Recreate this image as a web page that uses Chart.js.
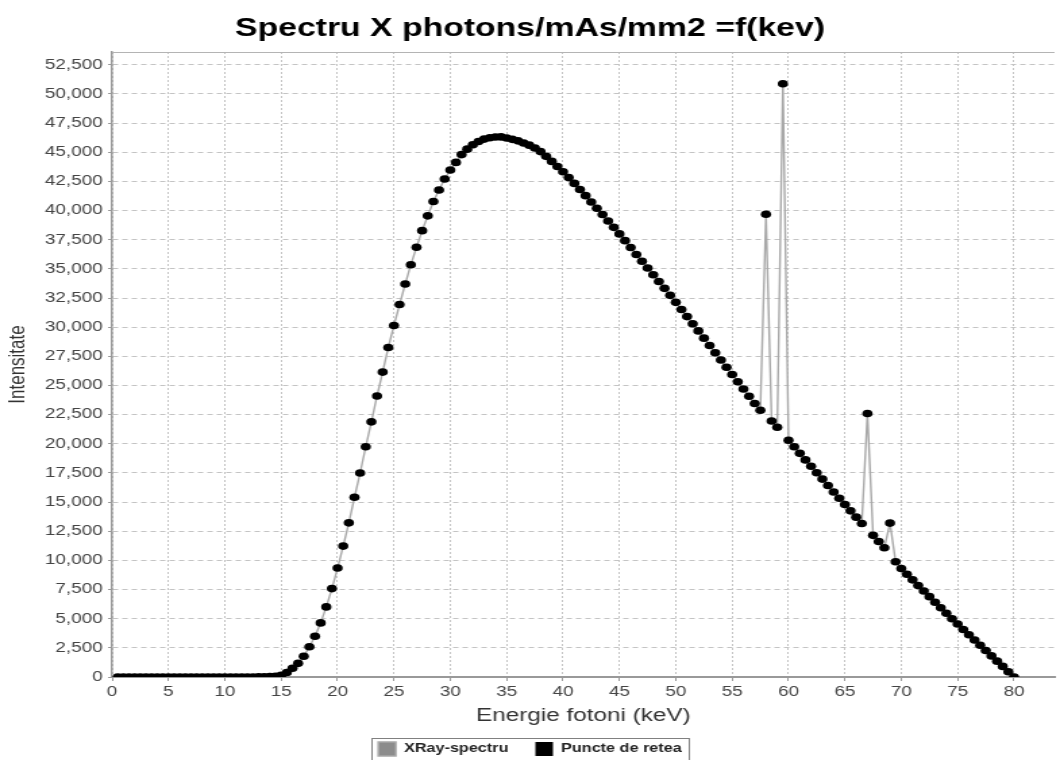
<!DOCTYPE html>
<html>
<head>
<meta charset="utf-8">
<script src="https://cdn.jsdelivr.net/npm/chart.js@4.4.1/dist/chart.umd.min.js"></script>
<style>
html, body { margin: 0; padding: 0; background: #fff; overflow: hidden; }
#wrap { width: 1060px; height: 760px; overflow: hidden; position: relative; background: #fff; }
/* the reference picture is stretched sideways, so the canvas is too */
#plot { position: absolute; left: 0; top: 0; transform-origin: 0 0; transform: scaleX(1.3503); }
</style>
</head>
<body>
<div id="wrap"><canvas id="plot" width="785" height="766"></canvas></div>
<script>
// photon energy (keV), one point every 0.5 keV
const energy = [
  0.5, 1, 1.5, 2, 2.5, 3, 3.5, 4, 4.5, 5,
  5.5, 6, 6.5, 7, 7.5, 8, 8.5, 9, 9.5, 10,
  10.5, 11, 11.5, 12, 12.5, 13, 13.5, 14, 14.5, 15,
  15.5, 16, 16.5, 17, 17.5, 18, 18.5, 19, 19.5, 20,
  20.5, 21, 21.5, 22, 22.5, 23, 23.5, 24, 24.5, 25,
  25.5, 26, 26.5, 27, 27.5, 28, 28.5, 29, 29.5, 30,
  30.5, 31, 31.5, 32, 32.5, 33, 33.5, 34, 34.5, 35,
  35.5, 36, 36.5, 37, 37.5, 38, 38.5, 39, 39.5, 40,
  40.5, 41, 41.5, 42, 42.5, 43, 43.5, 44, 44.5, 45,
  45.5, 46, 46.5, 47, 47.5, 48, 48.5, 49, 49.5, 50,
  50.5, 51, 51.5, 52, 52.5, 53, 53.5, 54, 54.5, 55,
  55.5, 56, 56.5, 57, 57.5, 58, 58.5, 59, 59.5, 60,
  60.5, 61, 61.5, 62, 62.5, 63, 63.5, 64, 64.5, 65,
  65.5, 66, 66.5, 67, 67.5, 68, 68.5, 69, 69.5, 70,
  70.5, 71, 71.5, 72, 72.5, 73, 73.5, 74, 74.5, 75,
  75.5, 76, 76.5, 77, 77.5, 78, 78.5, 79, 79.5, 80
];

// photons/mAs/mm2
const intensity = [
  0, 0, 0, 0, 0, 0, 0, 0, 0, 0,
  0, 0, 0, 0, 0, 0, 0, 0, 0, 0,
  0, 0, 0, 0, 5, 10, 20, 35, 70, 150,
  380, 750, 1170, 1780, 2590, 3500, 4640, 6010, 7580, 9345,
  11225, 13220, 15410, 17495, 19745, 21880, 24100, 26150, 28260, 30145,
  31940, 33700, 35360, 36850, 38280, 39550, 40780, 41770, 42710, 43480,
  44130, 44800, 45270, 45650, 45930, 46130, 46250, 46310, 46320, 46230,
  46110, 45980, 45800, 45610, 45370, 45060, 44650, 44220, 43780, 43330,
  42840, 42330, 41810, 41280, 40740, 40200, 39660, 39110, 38560, 38000,
  37420, 36830, 36240, 35660, 35080, 34500, 33920, 33330, 32730, 32130,
  31520, 30910, 30300, 29680, 29060, 28430, 27800, 27180, 26560, 25940,
  25320, 24700, 24080, 23460, 22880, 39680, 21960, 21420, 50880, 20300,
  19740, 19180, 18620, 18070, 17520, 16970, 16420, 15870, 15330, 14790,
  14250, 13710, 13170, 22600, 12150, 11620, 11080, 13200, 9880, 9300,
  8810, 8330, 7850, 7370, 6890, 6410, 5940, 5470, 5000, 4540,
  4080, 3620, 3170, 2720, 2270, 1810, 1360, 910, 450, 0
];

// y tick values shown on the axis
const yTicks = [
  0, 2500, 5000, 7500, 10000, 12500, 15000, 17500, 20000, 22500, 25000,
  27500, 30000, 32500, 35000, 37500, 40000, 42500, 45000, 47500, 50000, 52500
];

const seriesNames = ['XRay-spectru', 'Puncte de retea'];

const points = energy.map((e, i) => ({ x: e, y: intensity[i] }));

const FONT = "'Liberation Sans', Arial, sans-serif";

// frame round the legend and a thin top edge on the plot
const frames = {
  id: 'frames',
  afterDraw(chart) {
    const ctx = chart.ctx;
    const a = chart.chartArea;
    ctx.save();
    ctx.strokeStyle = '#b4b4b4';
    ctx.lineWidth = 1;
    ctx.beginPath();
    ctx.moveTo(a.left, a.top + 0.5);
    ctx.lineTo(a.right, a.top + 0.5);
    ctx.stroke();

    const boxes = chart.legend.legendHitBoxes || [];
    if (boxes.length) {
      let l = Infinity, r = -Infinity, t = Infinity, b = -Infinity;
      boxes.forEach(h => {
        l = Math.min(l, h.left); r = Math.max(r, h.left + h.width);
        t = Math.min(t, h.top); b = Math.max(b, h.top + h.height);
      });
      ctx.strokeStyle = '#808080';
      ctx.strokeRect(Math.round(l - 5) + 0.5, Math.round(t - 4) + 0.5,
                     Math.round(r - l + 10), Math.round(b - t + 8));
    }
    ctx.restore();
  }
};

const ctx = document.getElementById('plot').getContext('2d');

const spectrumChart = new Chart(ctx, {
  type: 'scatter',
  data: {
    datasets: [
      {
        label: seriesNames[0],
        type: 'line',
        data: points,
        showLine: true,
        borderColor: '#a8a8a8',
        backgroundColor: '#8c8c8c',
        borderWidth: 1.4,
        pointRadius: 0,
        tension: 0,
        order: 2
      },
      {
        label: seriesNames[1],
        data: points,
        backgroundColor: '#000000',
        borderColor: '#000000',
        borderWidth: 0,
        pointRadius: 3.8,
        order: 1
      }
    ]
  },
  options: {
    responsive: false,
    animation: false,
    events: [],
    layout: { padding: 0 },
    scales: {
      x: {
        type: 'linear',
        min: 0,
        max: 83.6,
        // legend below is 44px tall, keep the plot bottom at 677
        afterFit: (scale) => { scale.height = 45; },
        ticks: {
          stepSize: 5,
          includeBounds: false,
          padding: 3,
          color: '#444',
          font: { family: FONT, size: 14 }
        },
        grid: {
          color: '#c4c4c4',
          lineWidth: 1,
          tickLength: 4,
          tickColor: '#999'
        },
        border: { color: '#999', width: 2, dash: [2, 2] },
        title: {
          display: true,
          text: 'Energie fotoni (keV)',
          color: '#333',
          font: { family: FONT, size: 18 },
          padding: { top: 4, bottom: -5 }
        }
      },
      y: {
        min: 0,
        max: 53600,
        afterFit: (scale) => { scale.width = 83; },
        afterBuildTicks: (scale) => { scale.ticks = yTicks.map(v => ({ value: v })); },
        ticks: {
          padding: 4,
          color: '#444',
          font: { family: FONT, size: 14 },
          callback: (v) => v.toLocaleString('en-US')
        },
        grid: {
          color: '#c4c4c4',
          lineWidth: 1,
          tickLength: 3,
          tickColor: '#999'
        },
        border: { color: '#999', width: 1.5, dash: [4, 3] },
        title: {
          display: true,
          text: 'Intensitate',
          color: '#333',
          font: { family: FONT, size: 17 },
          padding: { top: 3, bottom: 0 }
        }
      }
    },
    plugins: {
      title: {
        display: true,
        text: 'Spectru X photons/mAs/mm2 =f(kev)',
        color: '#000',
        font: { family: FONT, size: 25, weight: 'bold' },
        padding: { top: 14, bottom: 8 }
      },
      legend: {
        position: 'bottom',
        labels: {
          boxWidth: 13,
          boxHeight: 14,
          padding: 20,
          color: '#222',
          font: { family: FONT, size: 12, weight: 'bold' },
          sort: (a, b) => a.datasetIndex - b.datasetIndex
        }
      },
      tooltip: { enabled: false }
    }
  },
  plugins: [frames]
});
</script>
</body>
</html>
